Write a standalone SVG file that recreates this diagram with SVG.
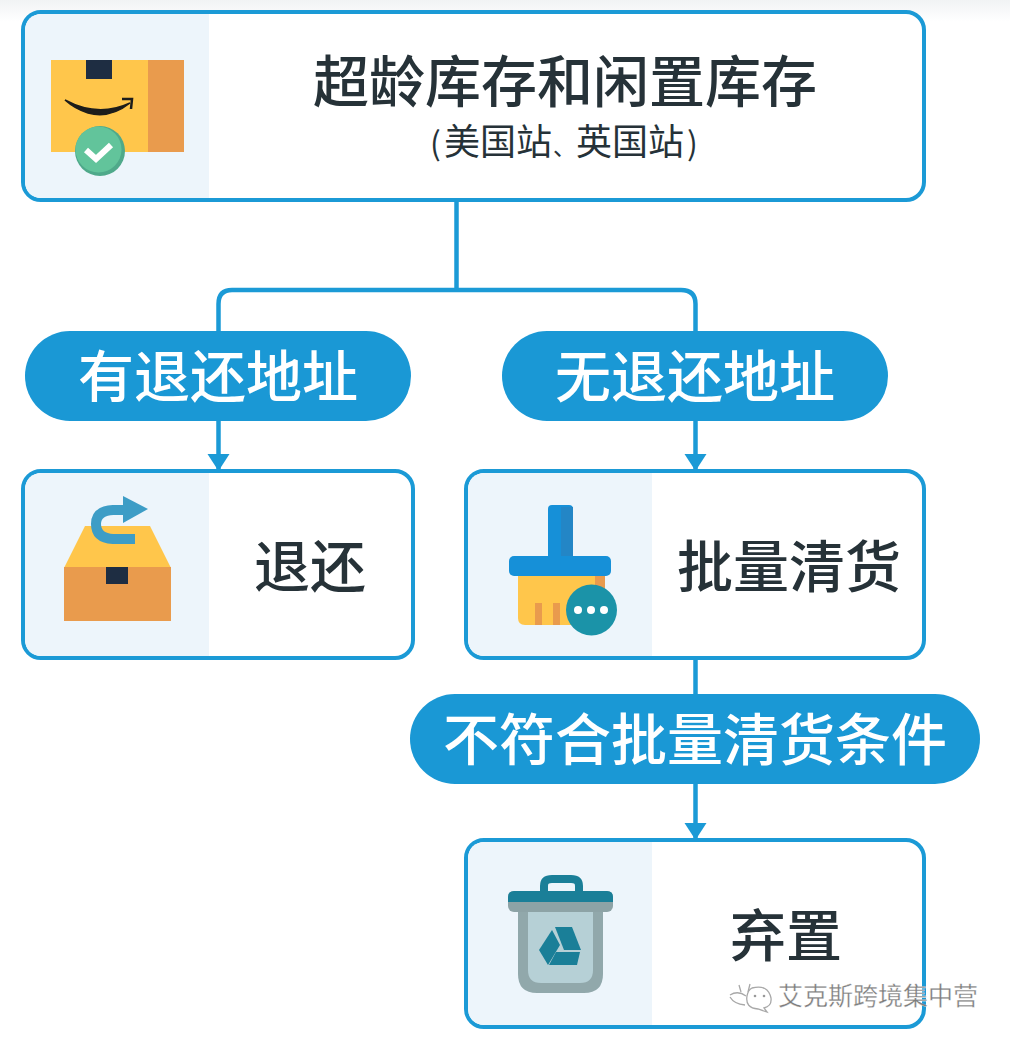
<svg xmlns="http://www.w3.org/2000/svg" width="1010" height="1040" viewBox="0 0 1010 1040">
<style>
.box{fill:#fff;stroke:#1b9ad6;stroke-width:4}
.panel{fill:#edf5fb}
.pill{fill:#1a98d5}
.conn{fill:none;stroke:#1b9ad6;stroke-width:4.500}
text{font-family:"Noto Sans CJK SC","Noto Sans",sans-serif;text-anchor:middle}
.pt{fill:#fff;font-size:56px;font-weight:500}
.dt{fill:#263238;font-size:56px;font-weight:500}
</style>
<defs>
<marker id="arr" markerUnits="userSpaceOnUse" markerWidth="20" markerHeight="24" refX="18" refY="12" orient="auto"><path d="M1 1L18 12L1 23Z" fill="#1b9ad6"/></marker>
<linearGradient id="top" x1="0" x2="0" y1="0" y2="1"><stop offset="0" stop-color="#f1f3f4"/><stop offset="1" stop-color="#fff"/></linearGradient>
</defs>
<rect width="1010" height="1040" fill="#fff"/>
<rect width="1010" height="22" fill="url(#top)"/>
<g id="connectors">
<path class="conn" d="M456.500 200V290"/>
<path class="conn" d="M218.500 331V304Q218.500 290 232 290H681Q695.500 290 695.500 304V331"/>
<path class="conn" d="M218.500 421V471" marker-end="url(#arr)"/>
<path class="conn" d="M695.500 421V471" marker-end="url(#arr)"/>
<path class="conn" d="M695.500 658V694"/>
<path class="conn" d="M695.500 784V840" marker-end="url(#arr)"/>
</g>
<g id="node-stock">
<rect class="box" x="23" y="12" width="901" height="188" rx="18"/>
<path class="panel" d="M25 32Q25 14 43 14H209V198H43Q25 198 25 180Z"/>
<rect x="51" y="60" width="133" height="92" fill="#ffc64b"/>
<rect x="148" y="60" width="36" height="92" fill="#e99b4d"/>
<rect x="86" y="60" width="26" height="19" fill="#1e2d42"/>
<path d="M65 100Q98 118 130 103Q110 119 88 113Q75 109 65 100Z" fill="#1d1d1b" stroke="#1d1d1b" stroke-width="1.500"/>
<path d="M122 99L132 99L131 109" fill="none" stroke="#1d1d1b" stroke-width="2.500"/>
<circle cx="100" cy="151" r="25" fill="#4fa98a"/>
<circle cx="98.500" cy="149.500" r="23" fill="#62c49b"/>
<path d="M86 150L96 159L111 145" fill="none" stroke="#fff" stroke-width="6"/>
<text class="dt" x="565" y="102">超龄库存和闲置库存</text>
<text y="155" fill="#263238" font-size="36" font-weight="400" style="text-anchor:start"><tspan x="430" font-size="32">(</tspan><tspan x="444">美国站</tspan><tspan x="553" font-size="23">、</tspan><tspan x="576">英国站</tspan><tspan x="687" font-size="32">)</tspan></text>
</g>
<g id="pill-return">
<rect class="pill" x="25" y="331" width="386" height="90" rx="45"/>
<text class="pt" x="218" y="397">有退还地址</text>
</g>
<g id="pill-noreturn">
<rect class="pill" x="502" y="331" width="386" height="90" rx="45"/>
<text class="pt" x="695" y="397">无退还地址</text>
</g>
<g id="node-return">
<rect class="box" x="23" y="471" width="390" height="187" rx="18"/>
<path class="panel" d="M25 491Q25 473 43 473H209V656H43Q25 656 25 638Z"/>
<path d="M64 568L85 526H150L171 568Z" fill="#ffc64b"/>
<rect x="64" y="567" width="107" height="54" fill="#e99b4d"/>
<rect x="106" y="567" width="22" height="17" fill="#1e2d42"/>
<path d="M135 539H113Q96 538 96 524Q96 511 113 510H125" fill="none" stroke="#3d9dc6" stroke-width="10"/>
<path d="M123 496L148 509L123 523Z" fill="#3d9dc6"/>
<text class="dt" x="310" y="587">退还</text>
</g>
<g id="node-clear">
<rect class="box" x="466" y="471" width="458" height="187" rx="18"/>
<path class="panel" d="M468 491Q468 473 486 473H652V656H486Q468 656 468 638Z"/>
<path d="M518 570H605V625H525Q518 625 518 618Z" fill="#ffc64b"/>
<rect x="595" y="570" width="10" height="30" fill="#e99b4d"/>
<rect x="535" y="603" width="7" height="22" fill="#e99b4d"/>
<rect x="553" y="603" width="7" height="22" fill="#e99b4d"/>
<rect x="548" y="505" width="25" height="56" rx="4" fill="#1690d8"/>
<rect x="561" y="507" width="12" height="54" fill="#2386c6"/>
<rect x="509" y="556" width="102" height="20" rx="5" fill="#1690d8"/>
<circle cx="591.500" cy="610" r="25.500" fill="#1b93a8"/>
<circle cx="578" cy="610" r="4" fill="#fff"/><circle cx="591" cy="610" r="4" fill="#fff"/><circle cx="604" cy="610" r="4" fill="#fff"/>
<text class="dt" x="789" y="587">批量清货</text>
</g>
<g id="pill-fail">
<rect class="pill" x="410" y="694" width="570" height="90" rx="45"/>
<text class="pt" x="695" y="760">不符合批量清货条件</text>
</g>
<g id="node-discard">
<rect class="box" x="466" y="840" width="458" height="187" rx="18"/>
<path class="panel" d="M468 860Q468 842 486 842H652V1025H486Q468 1025 468 1007Z"/>
<path d="M544 892V886Q544 879 552 879H571Q579 879 579 886V892" fill="none" stroke="#1a7f98" stroke-width="8"/>
<path d="M518 905H603V974Q603 993 584 993H537Q518 993 518 974Z" fill="#91a8ab"/>
<path d="M528 905H593V970Q593 983 580 983H541Q528 983 528 970Z" fill="#b6d0d6"/>
<rect x="508" y="891" width="105" height="21" rx="6" fill="#8da3a6"/>
<path d="M508 902V897Q508 891 514 891H607Q613 891 613 897V902Z" fill="#1a7f98"/>
<path d="M555 927H572L581 950H564Z" fill="#1a7f98"/>
<path d="M552 930L560 945L548 965L539 950Z" fill="#1a7f98"/>
<path d="M556 952H580L577 965H549Z" fill="#1a7f98"/>
<text class="dt" x="786" y="956">弃置</text>
</g>
<g id="watermark">
<g fill="none" stroke="#a8a8a8" stroke-width="1.300">
<path d="M730 997Q734 1004 745 1005M739 985L741 992M750 984L748 992M730 995Q738 990 746 996"/>
<path d="M752 988Q768 984 771 998Q772 1006 764 1008L767 1012L758 1009Q745 1008 747 996Q748 990 752 988Z"/>
</g>
<circle cx="755" cy="996" r="1.300" fill="#999"/><circle cx="764" cy="996" r="1.300" fill="#999"/>
<text x="878" y="1005" font-size="25" fill="#7d7d7d" stroke="#fff" stroke-width="0.300">艾克斯跨境集中营</text>
</g>
</svg>
